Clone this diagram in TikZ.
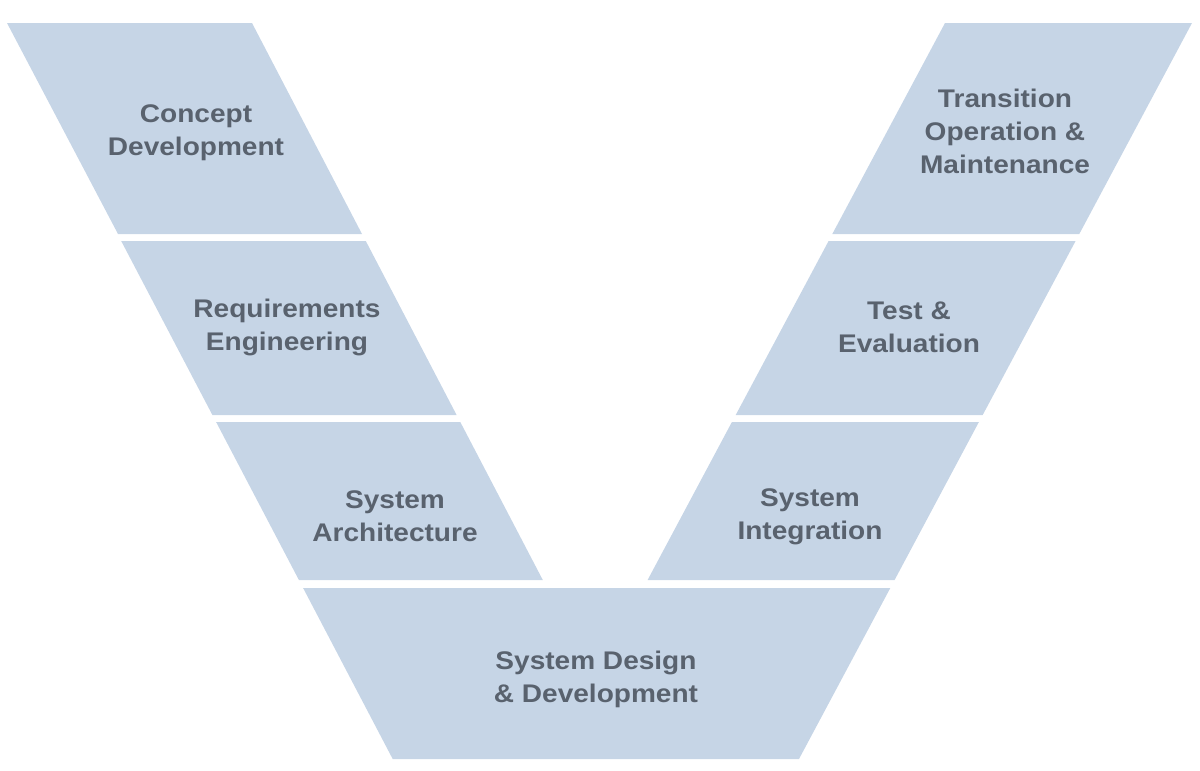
\documentclass[tikz,border=0pt]{standalone}
\usepackage{fontspec}
\setmainfont[FakeStretch=1.1]{Liberation Sans}
\definecolor{panel}{HTML}{C6D5E6}
\definecolor{label}{HTML}{59626E}
\begin{document}
\begin{tikzpicture}[x=1pt,y=-1pt,
  panelfill/.style={fill=panel},
  lbl/.style={text=label,font=\fontsize{25.5}{33}\selectfont\bfseries,align=center,inner sep=0pt}]
\useasboundingbox (0,0) rectangle (1200,771);
% left arm
\fill[panelfill] (7,23) -- (252,23) -- (362,234) -- (118,234) -- cycle;
\fill[panelfill] (121.2,241) -- (365.8,241) -- (456.6,415) -- (212.4,415) -- cycle;
\fill[panelfill] (216.1,422) -- (460.3,422) -- (542.8,580) -- (298.9,580) -- cycle;
% bottom
\fill[panelfill] (303.1,588) -- (890.3,588) -- (799,759) -- (392.7,759) -- cycle;
% right arm
\fill[panelfill] (945,23) -- (1192,23) -- (1079.3,234) -- (832.3,234) -- cycle;
\fill[panelfill] (828.6,241) -- (1075.6,241) -- (982.7,415) -- (735.7,415) -- cycle;
\fill[panelfill] (731.9,422) -- (978.9,422) -- (894.6,580) -- (647.6,580) -- cycle;
% labels
\node[lbl] (concept) at (196,133) {Concept\\Development};
\node[lbl] (req) at (287,327) {Requirements\\Engineering};
\node[lbl] (arch) at (395,516) {System\\Architecture};
\node[lbl] (design) at (596,679) {System Design\\\& Development};
\node[lbl] (trans) at (1005,131) {Transition\\Operation \&\\Maintenance};
\node[lbl] (test) at (909,327) {Test \&\\Evaluation};
\node[lbl] (integ) at (810,517) {System\\Integration};
\end{tikzpicture}
\end{document}
